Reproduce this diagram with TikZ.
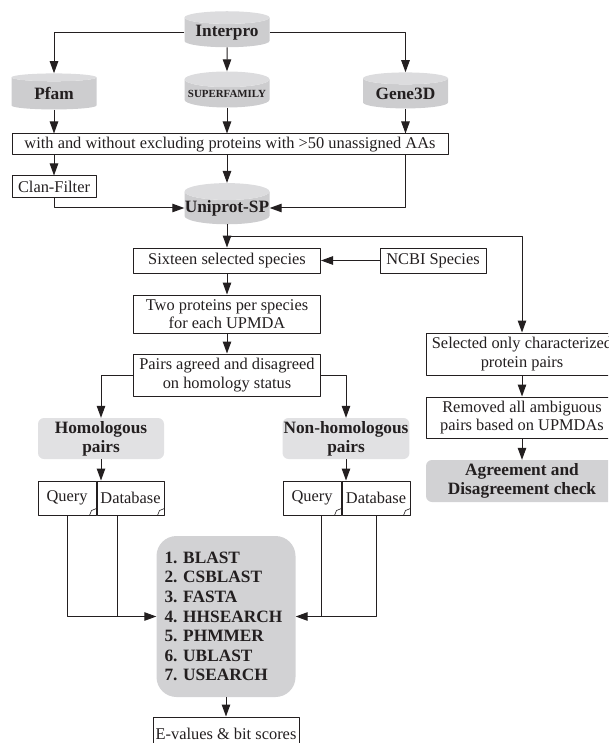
\documentclass[tikz,border=0pt]{standalone}
\usepackage{fontspec}
\setmainfont{Liberation Serif}
\usepackage{xcolor}
\usetikzlibrary{arrows.meta,shapes.geometric}
\definecolor{figink}{HTML}{231F20}
\definecolor{dbbody}{HTML}{CDCDCF}
\definecolor{dbtop}{HTML}{DCDCDE}
\definecolor{softgray}{HTML}{E1E1E3}
\definecolor{midgray}{HTML}{D2D2D4}
\tikzset{
every picture/.style={line join=round},
>={Triangle[length=12pt,width=8.5pt]},
flow box/.style={
  draw=figink,
  line width=1pt,
  fill=white,
  text=figink,
  align=center,
  inner sep=1pt,
  font=\fontsize{16.4}{18.5}\selectfont
},
db node/.style={
  cylinder,
  shape border rotate=90,
  aspect=0.2,
  cylinder uses custom fill,
  cylinder body fill=dbbody,
  cylinder end fill=dbtop,
  minimum width=85pt,
  minimum height=36pt,
  inner sep=0pt,
  text=figink,
  font=\fontsize{17.3}{19}\selectfont\bfseries
},
soft box/.style={fill=softgray, rounded corners=6pt, text=figink, align=center,
  inner sep=1pt, font=\fontsize{17.3}{19}\selectfont\bfseries},
dark box/.style={soft box, fill=midgray},
doc box/.style={flow box, minimum height=34pt},
fig flow/.style={draw=figink, line width=1pt, ->},
fig line/.style={draw=figink, line width=1pt}
}
\begin{document}
\begin{tikzpicture}[x=1pt,y=-1pt]
\useasboundingbox (0,0) rectangle (608,743);
\clip (0,0) rectangle (608,743);
% sources
\node[db node] (ip) at (227,32.5) {Interpro};
\node[db node] (pfam) at (54,93.5) {Pfam};
\node[db node, font=\fontsize{10.9}{12}\selectfont\bfseries] (sf) at (227,93.5) {SUPERFAMILY};
\node[db node] (gene) at (405.5,93.5) {Gene3D};
\node[flow box, minimum width=436pt, minimum height=21pt] (wide) at (230,144.5) {with and without excluding proteins with >50 unassigned AAs};
\node[flow box, minimum width=84pt, minimum height=22pt] (clan) at (54,187) {Clan-Filter};
\node[db node] (uni) at (227,208) {Uniprot-SP};
\coordinate (split) at (227,236);
% species branch
\node[flow box, minimum width=187pt, minimum height=25pt] (sixteen) at (227,260.5) {Sixteen selected species};
\node[flow box, minimum width=106pt, minimum height=25pt] (ncbi) at (433,260.5) {NCBI Species};
\node[flow box, minimum width=187pt, minimum height=38pt] (two) at (227,314) {Two proteins per species\\for each UPMDA};
\node[flow box, minimum width=187pt, minimum height=42pt] (pairs) at (227,375) {Pairs agreed and disagreed\\on homology status};
\node[soft box, minimum width=126pt, minimum height=41pt] (hom) at (101,438.5) {Homologous\\pairs};
\node[soft box, minimum width=126pt, minimum height=41pt] (nonhom) at (346,438.5) {Non-homologous\\pairs};
\node[doc box, minimum width=58pt] (q1) at (67,498) {Query};
\node[doc box, minimum width=67pt] (db1) at (130.5,498) {Database};
\node[doc box, minimum width=58pt] (q2) at (312,498) {Query};
\node[doc box, minimum width=68pt] (db2) at (376,498) {Database};
\node[dark box, rounded corners=20pt, minimum height=161pt, text width=123pt, inner xsep=8pt, align=left,
  font=\fontsize{17.3}{19.6}\selectfont\bfseries\frenchspacing] (tools) at (226,616.5)
  {1. BLAST\\2. CSBLAST\\3. FASTA\\4. HHSEARCH\\5. PHMMER\\6. UBLAST\\7. USEARCH};
\node[flow box, minimum width=146pt, minimum height=34pt] (eval) at (226,734) {E-values \& bit scores};
% characterized branch
\node[flow box, minimum width=192pt, minimum height=42pt] (sel) at (522,354) {Selected only characterized\\protein pairs};
\node[flow box, minimum width=192pt, minimum height=41pt] (rem) at (522,417.5) {Removed all ambiguous\\pairs based on UPMDAs};
\node[dark box, minimum width=192pt, minimum height=42pt] (agr) at (522,481) {Agreement and\\Disagreement check};
% folded corners
\foreach \d in {q1,db1,q2,db2}
  \draw[fig line, line width=0.6pt] ([xshift=-7pt]\d.south east) -- ([xshift=-5pt,yshift=5pt]\d.south east) -- ([yshift=7pt]\d.south east);
% connectors
\draw[fig flow] (ip.west) -| (pfam.north);
\draw[fig flow] (ip.east) -| (gene.north);
\draw[fig flow] (ip.south) -- (sf.north);
\foreach \d in {pfam,sf,gene}
  \draw[fig flow] (\d.south) -- (\d.south |- wide.north);
\draw[fig flow] (wide.south -| clan.north) -- (clan.north);
\draw[fig flow] (wide.south -| uni.north) -- (uni.north);
\draw[fig flow] (wide.south -| gene.south) |- (uni.east);
\draw[fig flow] (clan.south) |- (uni.west);
\draw[fig flow] (uni.south) -- (sixteen.north);
\draw[fig flow] (split) -| (sel.north);
\draw[fig flow] (ncbi.west) -- (sixteen.east);
\draw[fig flow] (sixteen.south) -- (two.north);
\draw[fig flow] (two.south) -- (pairs.north);
\draw[fig flow] (pairs.west) -| (hom.north);
\draw[fig flow] (pairs.east) -| (nonhom.north);
\draw[fig flow] (hom.south) -- (hom.south |- db1.north);
\draw[fig flow] (nonhom.south) -- (nonhom.south |- db2.north);
\draw[fig flow] (q1.south) |- (tools.west);
\draw[fig line] ([xshift=-13.5pt]db1.south) -- ([xshift=-13.5pt]db1.south |- tools.west);
\draw[fig flow] (db2.south) |- (tools.east);
\draw[fig line] ([xshift=9pt]q2.south) -- ([xshift=9pt]q2.south |- tools.east);
\draw[fig flow] (tools.south) -- (eval.north);
\draw[fig flow] (sel.south) -- (rem.north);
\draw[fig flow] (rem.south) -- (agr.north);
\end{tikzpicture}
\end{document}
